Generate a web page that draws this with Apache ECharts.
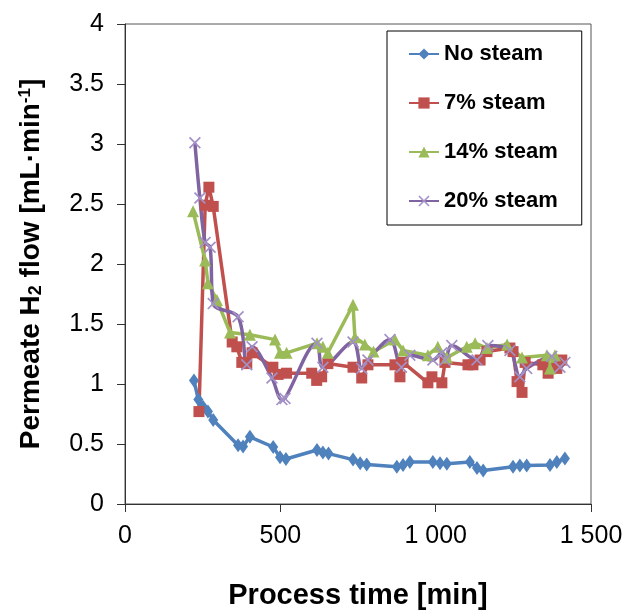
<!DOCTYPE html>
<html>
<head>
<meta charset="utf-8">
<script src="https://cdn.jsdelivr.net/npm/echarts@6/dist/echarts.min.js"></script>
<style>
  html, body { margin: 0; padding: 0; background: #fff; }
  #chart { width: 629px; height: 612px; }
</style>
</head>
<body>
<div id="chart"></div>
<script>
  // values (process time in min, flow in mL/min)
  var noSteamX = [222, 236, 251, 267, 284, 364, 380, 402, 477, 499, 518, 618, 637, 655, 734, 757, 778, 875, 895, 917, 991, 1014, 1036, 1110, 1133, 1153, 1249, 1271, 1293, 1368, 1390, 1416]
  var noSteamY = [1.03, 0.87, 0.81, 0.77, 0.70, 0.49, 0.48, 0.56, 0.475, 0.39, 0.375, 0.45, 0.43, 0.42, 0.37, 0.34, 0.33, 0.31, 0.325, 0.35, 0.35, 0.34, 0.335, 0.35, 0.30, 0.28, 0.31, 0.32, 0.32, 0.325, 0.35, 0.38]

  var steam7X = [238, 258, 270, 284, 345, 360, 376, 392, 409, 476, 493, 520, 601, 617, 633, 653, 734, 762, 782, 869, 885, 895, 975, 988, 1020, 1030, 1104, 1120, 1143, 1165, 1239, 1249, 1262, 1278, 1288, 1345, 1362, 1390, 1406]
  var steam7Y = [0.77, 2.49, 2.64, 2.48, 1.35, 1.31, 1.18, 1.17, 1.26, 1.14, 1.08, 1.09, 1.09, 1.03, 1.06, 1.17, 1.14, 1.05, 1.16, 1.16, 1.06, 1.18, 1.01, 1.06, 1.01, 1.18, 1.16, 1.16, 1.20, 1.27, 1.30, 1.27, 1.02, 0.93, 1.18, 1.16, 1.09, 1.13, 1.20]

  var steam14X = [219, 258, 267, 296, 338, 402, 483, 499, 520, 618, 637, 653, 734, 740, 772, 800, 869, 895, 975, 1007, 1036, 1100, 1127, 1165, 1230, 1278, 1358, 1368, 1384]
  var steam14Y = [2.44, 2.03, 1.84, 1.70, 1.43, 1.41, 1.37, 1.26, 1.26, 1.34, 1.31, 1.26, 1.66, 1.39, 1.33, 1.27, 1.37, 1.28, 1.24, 1.31, 1.22, 1.31, 1.34, 1.30, 1.33, 1.22, 1.24, 1.13, 1.24]

  var steam20X = [225, 241, 258, 274, 284, 364, 392, 409, 473, 505, 515, 618, 637, 734, 762, 782, 853, 890, 917, 991, 1020, 1030, 1052, 1133, 1168, 1239, 1271, 1293, 1374, 1400, 1416]
  var steam20Y = [3.01, 2.55, 2.18, 2.14, 1.67, 1.56, 1.16, 1.31, 1.05, 0.87, 0.88, 1.34, 1.14, 1.35, 1.13, 1.20, 1.37, 1.14, 1.24, 1.20, 1.26, 1.20, 1.32, 1.20, 1.32, 1.28, 1.06, 1.13, 1.23, 1.14, 1.18]

  var seriesNames = ['No steam', '7% steam', '14% steam', '20% steam']

  var font = '"Liberation Sans", Arial, sans-serif'
  var crossPath = 'path://M0,1L1,0L5,4L9,0L10,1L6,5L10,9L9,10L5,6L1,10L0,9L4,5Z'

  function pairs(xs, ys) {
    return xs.map(function (x, i) { return [x, ys[i]] })
  }

  var chart = echarts.init(document.getElementById('chart'))
  chart.setOption({
    animation: false,
    backgroundColor: '#fff',
    textStyle: { fontFamily: font },
    grid: {
      left: 125, top: 24, right: 38, bottom: 108,
      outerBoundsMode: 'none',
      containLabel: false,
      show: true, borderColor: '#555', borderWidth: 1
    },
    legend: {
      orient: 'vertical',
      left: 387,
      top: 31,
      padding: [12, 24, 13, 21],
      itemWidth: 30,
      itemHeight: 14,
      itemGap: 27,
      backgroundColor: '#fff',
      borderColor: '#000',
      borderWidth: 1,
      textStyle: { fontSize: 22, fontWeight: 'bold', color: '#000', fontFamily: font },
      data: seriesNames
    },
    xAxis: {
      type: 'value',
      min: 0, max: 1500, interval: 500,
      name: 'Process time [min]',
      nameLocation: 'middle',
      nameGap: 77,
      nameTextStyle: { fontSize: 29, fontWeight: 'bold', color: '#000', fontFamily: font },
      axisLine: { onZero: false, lineStyle: { color: '#333', width: 1 } },
      axisTick: { inside: false, length: 8, lineStyle: { color: '#333' } },
      axisLabel: {
        margin: 20, fontSize: 25, color: '#000', fontFamily: font,
        formatter: function (v) { return v >= 1000 ? Math.floor(v / 1000) + ' ' + String(v % 1000).padStart(3, '0') : String(v) }
      },
      splitLine: { show: false }
    },
    yAxis: {
      type: 'value',
      min: 0, max: 4, interval: 0.5,
      name: 'Permeate H{sub|2} flow [mL·min{sup|-1}]',
      nameLocation: 'middle',
      nameGap: 80,
      nameTextStyle: {
        fontSize: 28, fontWeight: 'bold', color: '#000', fontFamily: font,
        rich: {
          sub: { fontSize: 18, fontWeight: 'bold', verticalAlign: 'bottom', lineHeight: 14, fontFamily: font },
          sup: { fontSize: 17, fontWeight: 'bold', verticalAlign: 'top', lineHeight: 14, fontFamily: font }
        }
      },
      axisLine: { show: true, lineStyle: { color: '#333', width: 1 } },
      axisTick: { show: true, inside: false, length: 8, lineStyle: { color: '#333' } },
      axisLabel: { margin: 21, fontSize: 25, color: '#000', fontFamily: font },
      splitLine: { show: false }
    },
    series: [
      {
        name: 'No steam',
        type: 'line',
        data: pairs(noSteamX, noSteamY),
        symbol: 'diamond',
        symbolSize: [10, 14],
        lineStyle: { color: '#4f81bd', width: 3.5 },
        itemStyle: { color: '#4f81bd' }
      },
      {
        name: '7% steam',
        type: 'line',
        data: pairs(steam7X, steam7Y),
        symbol: 'rect',
        symbolSize: 11,
        lineStyle: { color: '#c0504d', width: 3.5 },
        itemStyle: { color: '#c0504d' }
      },
      {
        name: '14% steam',
        type: 'line',
        data: pairs(steam14X, steam14Y),
        symbol: 'triangle',
        symbolSize: 12,
        lineStyle: { color: '#9bbb59', width: 3.5 },
        itemStyle: { color: '#9bbb59' }
      },
      {
        name: '20% steam',
        type: 'line',
        data: pairs(steam20X, steam20Y),
        smooth: 0.35,
        symbol: crossPath,
        symbolSize: 12,
        lineStyle: { color: '#8064a2', width: 3.5 },
        itemStyle: { color: '#a391c6' }
      }
    ]
  })
</script>
</body>
</html>
